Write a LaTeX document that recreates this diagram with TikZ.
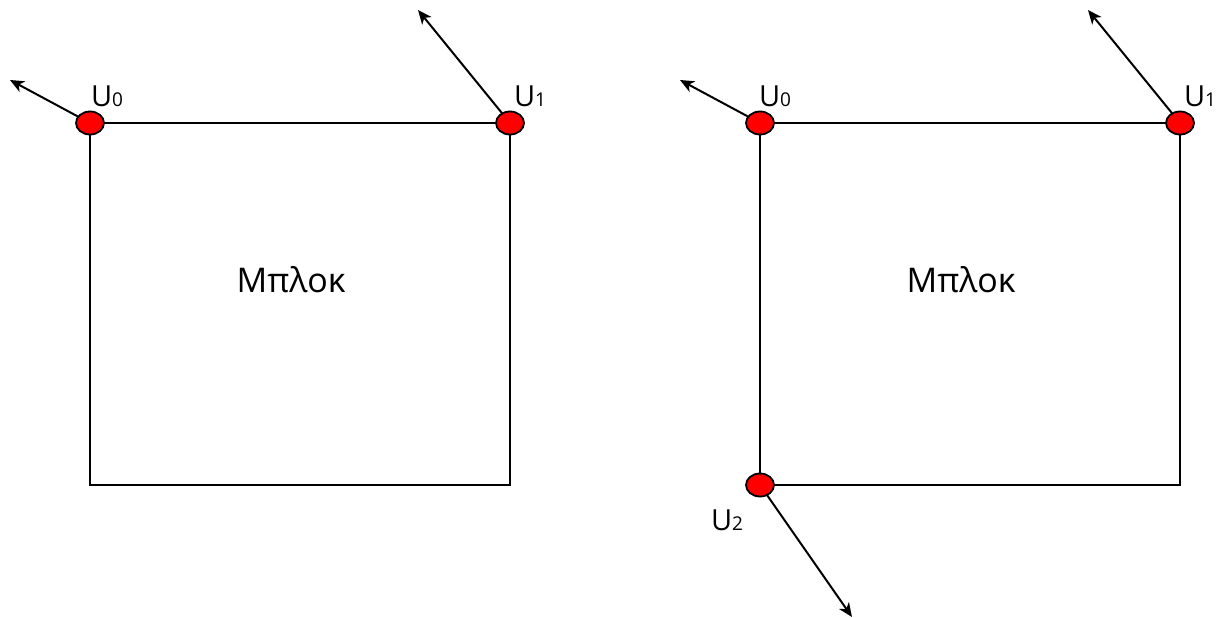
\documentclass[tikz,border=0pt]{standalone}
\usepackage{fontspec}
\setmainfont{Open Sans}
\usetikzlibrary{arrows.meta,shapes.geometric}
\tikzset{
  vertex/.style={ellipse, draw=black, line width=1.8pt, fill=red, minimum width=28pt, minimum height=23pt, inner sep=0pt},
  blockedge/.style={line width=2pt},
  vec/.style={line width=2pt, -{Stealth[length=14pt,width=12pt,inset=4pt]}},
  lbl/.style={font=\fontsize{29}{33}\selectfont, inner sep=0pt},
  title/.style={font=\fontsize{34}{40}\selectfont, inner sep=0pt}
}
\newcommand{\vlabel}[1]{U{\fontsize{19}{22}\selectfont #1}}
\begin{document}
\begin{tikzpicture}[x=1pt,y=-1pt]
\useasboundingbox (0,0) rectangle (1228,618);
% left block
\coordinate (LA) at (90,123);
\coordinate (LB) at (510,123);
\coordinate (LC) at (510,485);
\coordinate (LD) at (90,485);
\draw[blockedge] (LA) -- (LB) -- (LC) -- (LD) -- cycle;
\node[title] (lt) at (291,280) {Μπλοκ};
\coordinate (la0) at (10,80);
\coordinate (la1) at (418,10);
\draw[vec] (LA) -- (la0);
\draw[vec] (LB) -- (la1);
\node[vertex] (lu0) at (LA) {};
\node[vertex] (lu1) at (LB) {};
\node[lbl] (ll0) at (107,96) {\vlabel{0}};
\node[lbl] (ll1) at (530,96) {\vlabel{1}};
% right block
\coordinate (RA) at (760,123);
\coordinate (RB) at (1180,123);
\coordinate (RC) at (1180,485);
\coordinate (RD) at (760,485);
\draw[blockedge] (RA) -- (RB) -- (RC) -- (RD) -- cycle;
\node[title] (rt) at (961,280) {Μπλοκ};
\coordinate (ra0) at (680,80);
\coordinate (ra1) at (1088,10);
\coordinate (ra2) at (852,617);
\draw[vec] (RA) -- (ra0);
\draw[vec] (RB) -- (ra1);
\draw[vec] (RD) -- (ra2);
\node[vertex] (ru0) at (RA) {};
\node[vertex] (ru1) at (RB) {};
\node[vertex] (ru2) at (RD) {};
\node[lbl] (rl0) at (775,96) {\vlabel{0}};
\node[lbl] (rl1) at (1200,96) {\vlabel{1}};
\node[lbl] (rl2) at (727,520) {\vlabel{2}};
\end{tikzpicture}
\end{document}
